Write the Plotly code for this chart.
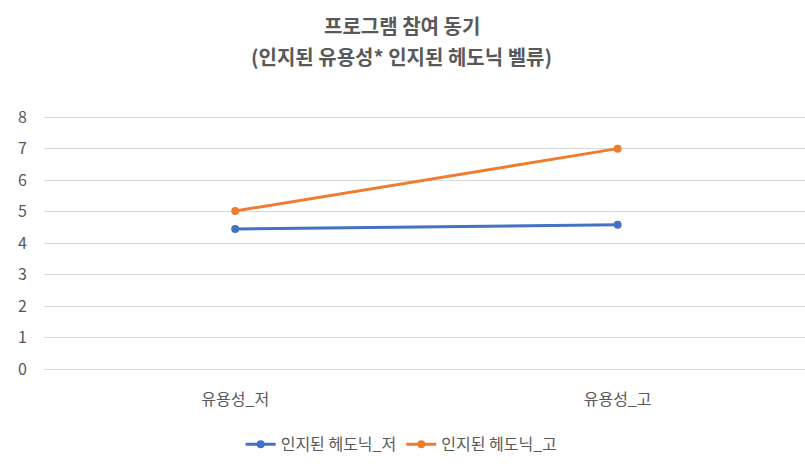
import plotly.graph_objects as go

categories = ["유용성_저", "유용성_고"]
series_names = ["인지된 헤도닉_저", "인지된 헤도닉_고"]
low_hedonic = [4.45, 4.58]
high_hedonic = [5.02, 7.0]
title_lines = ["프로그램 참여 동기", "(인지된 유용성* 인지된 헤도닉 벨류)"]
y_ticks = [0, 1, 2, 3, 4, 5, 6, 7, 8]

colors = ["#4472C4", "#ED7D31"]
font = "Noto Sans CJK KR"
txt = "#595959"

fig = go.Figure()
for name, vals, c in zip(series_names, [low_hedonic, high_hedonic], colors):
    fig.add_trace(go.Scatter(
        x=categories, y=vals, name=name, mode="lines+markers",
        line=dict(color=c, width=3), marker=dict(color=c, size=8),
    ))

fig.update_layout(
    width=805, height=466,
    margin=dict(l=44, r=0, t=114, b=96),
    paper_bgcolor="white", plot_bgcolor="white",
    font=dict(family=font, color=txt, size=16),
    showlegend=True,
    legend=dict(orientation="h", x=0.47, xanchor="center", y=-0.29, yanchor="middle",
                font=dict(size=16, color=txt), tracegroupgap=0),
    xaxis=dict(type="category", range=[-0.5, 1.49], showgrid=False, zeroline=False,
               showline=False, ticks="", ticklabelstandoff=18,
               tickfont=dict(size=16, color=txt)),
    yaxis=dict(range=[-0.03, 8.1], tickvals=y_ticks, showgrid=True, gridcolor="#D9D9D9",
               gridwidth=1, zeroline=True, zerolinecolor="#D9D9D9", zerolinewidth=1,
               showline=False, ticks="",
               ticklabelstandoff=16, tickfont=dict(size=16, color=txt)),
    annotations=[
        dict(text=f"<b>{title_lines[0]}</b>", x=0.47, y=1.345, xref="paper", yref="paper",
             xanchor="center", yanchor="middle", showarrow=False,
             font=dict(size=20, color=txt, family=font)),
        dict(text=f"<b>{title_lines[1]}</b>", x=0.47, y=1.225, xref="paper", yref="paper",
             xanchor="center", yanchor="middle", showarrow=False,
             font=dict(size=20, color=txt, family=font)),
    ],
)

fig.write_html("out.html")
